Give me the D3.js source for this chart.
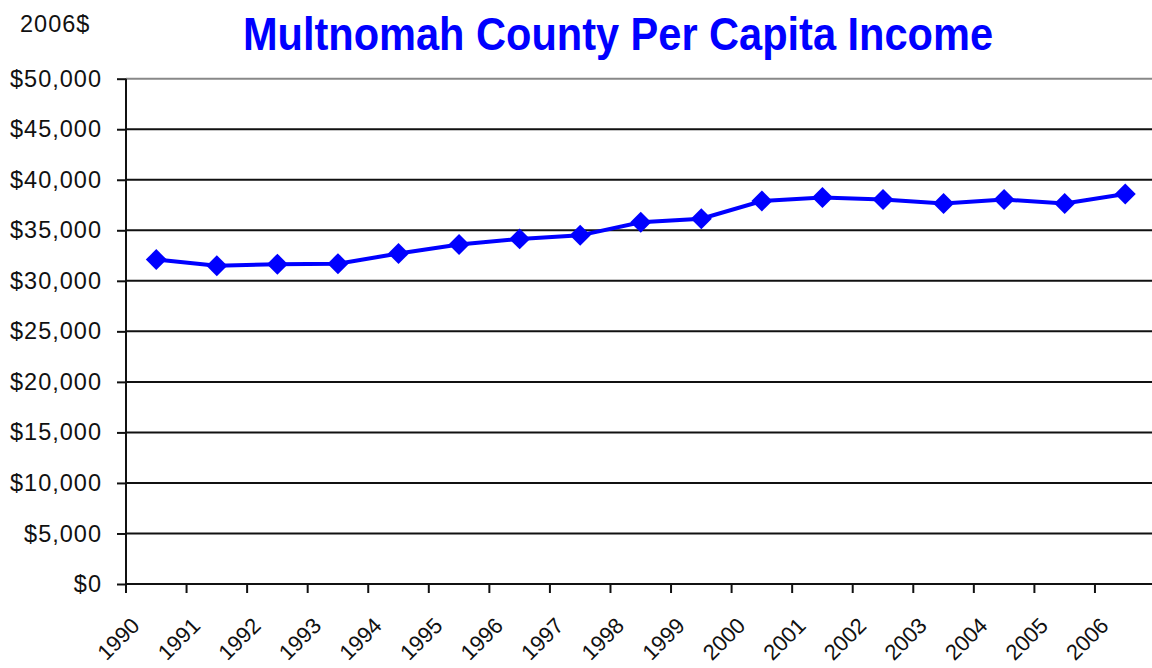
<!DOCTYPE html>
<html>
<head>
<meta charset="utf-8">
<script src="https://cdn.jsdelivr.net/npm/d3@7"></script>
<style>
  body { margin: 0; background: #fff; }
  svg { display: block; font-family: "Liberation Sans", Arial, sans-serif; }
</style>
</head>
<body>
<svg id="chart"></svg>
<script>
"use strict";

var years = ['1990', '1991', '1992', '1993', '1994', '1995', '1996', '1997', '1998',
    '1999', '2000', '2001', '2002', '2003', '2004', '2005', '2006'];
var income = [32100, 31500, 31650, 31700, 32700, 33600, 34150, 34500, 35800,
    36150, 37900, 38250, 38050, 37650, 38050, 37650, 38600];
var yTicks = [0, 5000, 10000, 15000, 20000, 25000, 30000, 35000, 40000, 45000, 50000];

var width = 1152, height = 668;
var plotLeft = 126, plotTop = 78.7, plotBottom = 584;
var bandW = 60.56;

var svg = d3.select('#chart')
    .attr('width', width)
    .attr('height', height);

var x = d3.scaleBand()
    .domain(years)
    .range([plotLeft, plotLeft + bandW * years.length])
    .padding(0);

var y = d3.scaleLinear()
    .domain([0, 50000])
    .range([plotBottom, plotTop]);

var fmt = d => '$' + d3.format(',')(d);

// grid lines
svg.append('g')
    .selectAll('line')
    .data(yTicks.filter(d => d > 0))
    .enter()
    .append('line')
        .attr('x1', plotLeft)
        .attr('x2', width)
        .attr('y1', d => y(d))
        .attr('y2', d => y(d))
        .attr('stroke', d => d === 50000 ? '#888' : '#111')
        .attr('stroke-width', 2);

// y axis
var yAxis = svg.append('g')
    .attr('transform', `translate(${plotLeft},0)`)
    .call(d3.axisLeft(y).tickValues(yTicks).tickFormat(fmt).tickSize(9).tickPadding(15));

yAxis.select('.domain').remove();
yAxis.selectAll('.tick line').attr('stroke', '#111').attr('stroke-width', 2);
yAxis.selectAll('.tick text')
    .attr('font-size', 23.5)
    .attr('letter-spacing', 1)
    .attr('fill', '#111')
    .attr('font-family', '"Liberation Sans", Arial, sans-serif');

svg.append('line')
    .attr('x1', plotLeft).attr('x2', plotLeft)
    .attr('y1', plotTop).attr('y2', plotBottom)
    .attr('stroke', '#111').attr('stroke-width', 2);

// x axis
svg.append('line')
    .attr('x1', plotLeft).attr('x2', width)
    .attr('y1', plotBottom).attr('y2', plotBottom)
    .attr('stroke', '#111').attr('stroke-width', 2);

svg.append('g')
    .selectAll('line')
    .data(years)
    .enter()
    .append('line')
        .attr('x1', d => x(d))
        .attr('x2', d => x(d))
        .attr('y1', plotBottom)
        .attr('y2', plotBottom + 9)
        .attr('stroke', '#111')
        .attr('stroke-width', 2);

svg.append('g')
    .selectAll('text')
    .data(years)
    .enter()
    .append('text')
        .attr('transform', d => `translate(${x(d) + 15},627) rotate(-45)`)
        .attr('text-anchor', 'end')
        .attr('font-size', 22)
        .attr('fill', '#111')
        .text(d => d);

// line + markers
var line = d3.line()
    .x((d, i) => x(years[i]) + x.bandwidth() / 2)
    .y(d => y(d));

svg.append('path')
    .datum(income)
    .attr('d', line)
    .attr('fill', 'none')
    .attr('stroke', '#0000ff')
    .attr('stroke-width', 4);

svg.append('g')
    .selectAll('path')
    .data(income)
    .enter()
    .append('path')
        .attr('d', d3.symbol().type(d3.symbolSquare).size(220))
        .attr('transform', (d, i) => `translate(${x(years[i]) + x.bandwidth() / 2},${y(d)}) rotate(45)`)
        .attr('fill', '#0000ff');

// titles
svg.append('text')
    .attr('x', 618)
    .attr('y', 50)
    .attr('text-anchor', 'middle')
    .attr('font-size', 46)
    .attr('font-weight', 'bold')
    .attr('fill', '#0000ff')
    .attr('textLength', 750)
    .attr('lengthAdjust', 'spacingAndGlyphs')
    .text('Multnomah County Per Capita Income');

svg.append('text')
    .attr('x', 20)
    .attr('y', 32)
    .attr('font-size', 23.5)
    .attr('letter-spacing', 1)
    .attr('fill', '#111')
    .text('2006$');
</script>
</body>
</html>
